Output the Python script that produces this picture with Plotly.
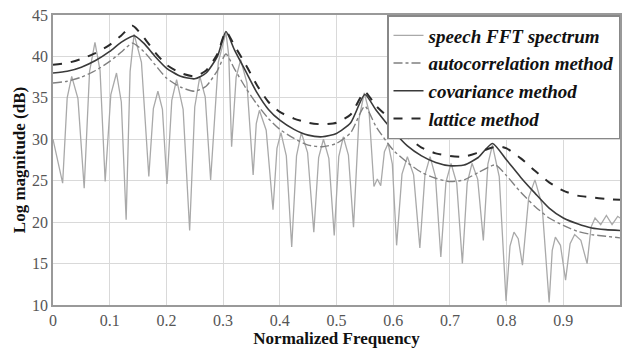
import plotly.graph_objects as go

# ---- speech FFT spectrum (harmonic peaks / troughs) ----
fft_freq = [0.000, 0.017, 0.025, 0.033, 0.044, 0.055, 0.0645, 0.074, 0.083, 0.092,
            0.102, 0.112, 0.1205, 0.129, 0.136, 0.143, 0.156, 0.169, 0.177, 0.185,
            0.193, 0.201, 0.2095, 0.218, 0.2295, 0.241, 0.250, 0.259, 0.2685, 0.278,
            0.2915, 0.305, 0.310, 0.315, 0.323, 0.331, 0.342, 0.353, 0.3585, 0.364,
            0.376, 0.388, 0.395, 0.402, 0.4115, 0.421, 0.4295, 0.438, 0.449, 0.460,
            0.4685, 0.477, 0.4865, 0.496, 0.504, 0.512, 0.521, 0.530, 0.5395, 0.549,
            0.5575, 0.566, 0.572, 0.578, 0.5845, 0.591, 0.5985, 0.606, 0.6155, 0.625,
            0.636, 0.647, 0.656, 0.665, 0.6745, 0.684, 0.693, 0.702, 0.712, 0.722,
            0.7305, 0.739, 0.749, 0.759, 0.767, 0.775, 0.787, 0.799, 0.806, 0.813,
            0.8205, 0.828, 0.839, 0.850, 0.8625, 0.875, 0.8805, 0.886, 0.895, 0.904,
            0.912, 0.920, 0.931, 0.942, 0.949, 0.956, 0.966, 0.976, 0.986, 0.996, 1.000]
fft_db = [30.0, 24.7, 35.0, 37.6, 34.9, 24.1, 38.2, 41.7, 38.3, 24.9,
          35.4, 38.0, 34.5, 20.3, 38.2, 42.7, 39.3, 25.5, 33.7, 35.8,
          33.6, 24.6, 34.7, 37.2, 33.6, 19.0, 33.9, 37.6, 35.1, 25.1,
          39.3, 42.9, 40.1, 29.1, 37.5, 39.6, 36.8, 25.7, 31.9, 33.5,
          31.1, 21.5, 28.9, 30.8, 28.0, 17.0, 28.0, 30.8, 28.4, 18.8,
          27.8, 30.0, 27.7, 18.4, 27.9, 30.3, 28.1, 19.4, 32.4, 35.6,
          33.3, 24.3, 25.2, 24.4, 28.5, 29.5, 27.0, 17.2, 25.8, 27.9,
          25.7, 16.9, 25.7, 27.9, 25.5, 15.8, 24.8, 27.1, 24.7, 15.0,
          24.7, 27.1, 25.2, 17.8, 27.0, 29.3, 25.5, 10.5, 17.1, 18.8,
          18.0, 14.8, 23.0, 25.1, 22.1, 10.3, 16.6, 18.2, 17.2, 13.0,
          17.4, 18.5, 17.8, 15.0, 19.4, 20.5, 19.7, 20.8, 19.7, 20.7, 20.5]

# ---- autocorrelation method ----
auto_freq = [0.0, 0.025, 0.05, 0.075, 0.1, 0.12, 0.14, 0.16, 0.18, 0.2, 0.225, 0.25,
             0.27, 0.29, 0.305, 0.32, 0.34, 0.36, 0.38, 0.4, 0.425, 0.45, 0.475, 0.5,
             0.525, 0.55, 0.57, 0.6, 0.625, 0.65, 0.675, 0.7, 0.725, 0.75, 0.78, 0.8,
             0.825, 0.85, 0.875, 0.9, 0.925, 0.95, 0.975, 1.0]
auto_db = [36.8, 37.0, 37.5, 38.3, 39.4, 40.5, 41.6, 40.6, 39.0, 37.4, 36.3, 35.8,
           36.4, 38.3, 40.3, 38.5, 36.2, 34.2, 32.5, 31.2, 30.1, 29.3, 29.1, 29.5,
           30.8, 34.0, 31.5, 28.7, 27.2, 26.0, 25.3, 24.9, 25.1, 26.0, 26.9, 25.6,
           23.6, 21.9, 20.5, 19.6, 18.9, 18.5, 18.3, 18.1]

# ---- covariance method ----
cov_freq = [0.0, 0.025, 0.05, 0.075, 0.1, 0.12, 0.143, 0.16, 0.18, 0.2, 0.225, 0.25,
            0.27, 0.29, 0.305, 0.32, 0.34, 0.36, 0.38, 0.4, 0.425, 0.45, 0.475, 0.5,
            0.525, 0.55, 0.57, 0.6, 0.625, 0.65, 0.675, 0.7, 0.725, 0.75, 0.775, 0.8,
            0.825, 0.85, 0.875, 0.9, 0.925, 0.95, 0.975, 1.0]
cov_db = [38.0, 38.2, 38.7, 39.5, 40.6, 41.7, 42.5, 41.6, 40.0, 38.6, 37.6, 37.3,
          38.0, 40.0, 43.0, 40.8, 38.2, 35.6, 33.6, 32.3, 31.2, 30.5, 30.3, 30.7,
          32.0, 35.4, 33.5, 31.0, 29.2, 28.0, 27.2, 26.8, 26.9, 27.8, 29.5, 27.5,
          25.4, 23.5, 21.7, 20.5, 19.8, 19.3, 19.1, 19.0]

# ---- lattice method ----
lat_freq = [0.0, 0.025, 0.05, 0.075, 0.1, 0.12, 0.14, 0.16, 0.18, 0.2, 0.225, 0.25,
            0.27, 0.29, 0.305, 0.32, 0.34, 0.36, 0.38, 0.4, 0.425, 0.45, 0.475, 0.5,
            0.525, 0.55, 0.57, 0.6, 0.625, 0.65, 0.675, 0.7, 0.725, 0.75, 0.775, 0.79,
            0.8, 0.825, 0.85, 0.875, 0.9, 0.925, 0.95, 0.975, 1.0]
lat_db = [39.0, 39.2, 39.7, 40.4, 41.4, 42.5, 43.7, 42.3, 40.5, 39.0, 38.0, 37.6,
          38.3, 40.3, 43.0, 41.3, 39.0, 36.5, 34.5, 33.3, 32.5, 32.0, 31.8, 32.0,
          33.0, 35.7, 34.0, 32.1, 30.3, 29.0, 28.3, 28.0, 27.9, 28.4, 29.0, 29.1,
          28.9, 27.7, 26.2, 24.8, 23.8, 23.2, 23.0, 22.8, 22.7]

x_ticks = [0, 0.1, 0.2, 0.3, 0.4, 0.5, 0.6, 0.7, 0.8, 0.9, 1]
x_tick_labels = ["0", "0.1", "0.2", "0.3", "0.4", "0.5", "0.6", "0.7", "0.8", "0.9", "1"]
y_ticks = [10, 15, 20, 25, 30, 35, 40, 45]

serif = "Liberation Serif, Times New Roman, serif"

fig = go.Figure()
fig.add_trace(go.Scatter(x=fft_freq, y=fft_db, mode="lines", name="speech FFT spectrum",
                         line=dict(color="#a9a9a9", width=1.3)))
fig.add_trace(go.Scatter(x=auto_freq, y=auto_db, mode="lines", name="autocorrelation method",
                         line=dict(color="#808080", width=1.4, dash="dashdot", shape="spline", smoothing=0.6)))
fig.add_trace(go.Scatter(x=cov_freq, y=cov_db, mode="lines", name="covariance method",
                         line=dict(color="#3a3a3a", width=1.6, shape="spline", smoothing=0.6)))
fig.add_trace(go.Scatter(x=lat_freq, y=lat_db, mode="lines", name="lattice method",
                         line=dict(color="#2a2a2a", width=2, dash="dash", shape="spline", smoothing=0.6)))

fig.update_layout(
    width=622, height=350,
    margin=dict(l=53, r=0, t=15, b=45),
    paper_bgcolor="white", plot_bgcolor="white",
    font=dict(family=serif, color="#444"),
    showlegend=True,
    legend=dict(x=1, y=1, xanchor="right", yanchor="top",
                bgcolor="white", bordercolor="#888", borderwidth=1.5,
                font=dict(family=serif, size=19, color="#111", weight="bold", style="italic"),
                tracegroupgap=0, itemwidth=30),
)
fig.update_xaxes(range=[0, 1], tickvals=x_ticks, ticktext=x_tick_labels,
                 showgrid=True, gridcolor="#d9d9d9", gridwidth=1,
                 showline=True, linecolor="#999", linewidth=1.5, mirror=True,
                 ticks="", tickfont=dict(size=16, color="#555"), zeroline=False,
                 title=dict(text="<b>Normalized Frequency</b>", standoff=4,
                            font=dict(size=17, color="#111")))
fig.update_yaxes(range=[10, 45], tickvals=y_ticks,
                 showgrid=True, gridcolor="#d9d9d9", gridwidth=1,
                 showline=True, linecolor="#999", linewidth=1.5, mirror=True,
                 ticks="", tickfont=dict(size=16, color="#555"), zeroline=False,
                 title=dict(text="<b>Log magnitude (dB)</b>", standoff=2,
                            font=dict(size=17, color="#111")))

fig.write_html("out.html", config={"displayModeBar": False},
               post_script="document.body.style.margin='0px';")
